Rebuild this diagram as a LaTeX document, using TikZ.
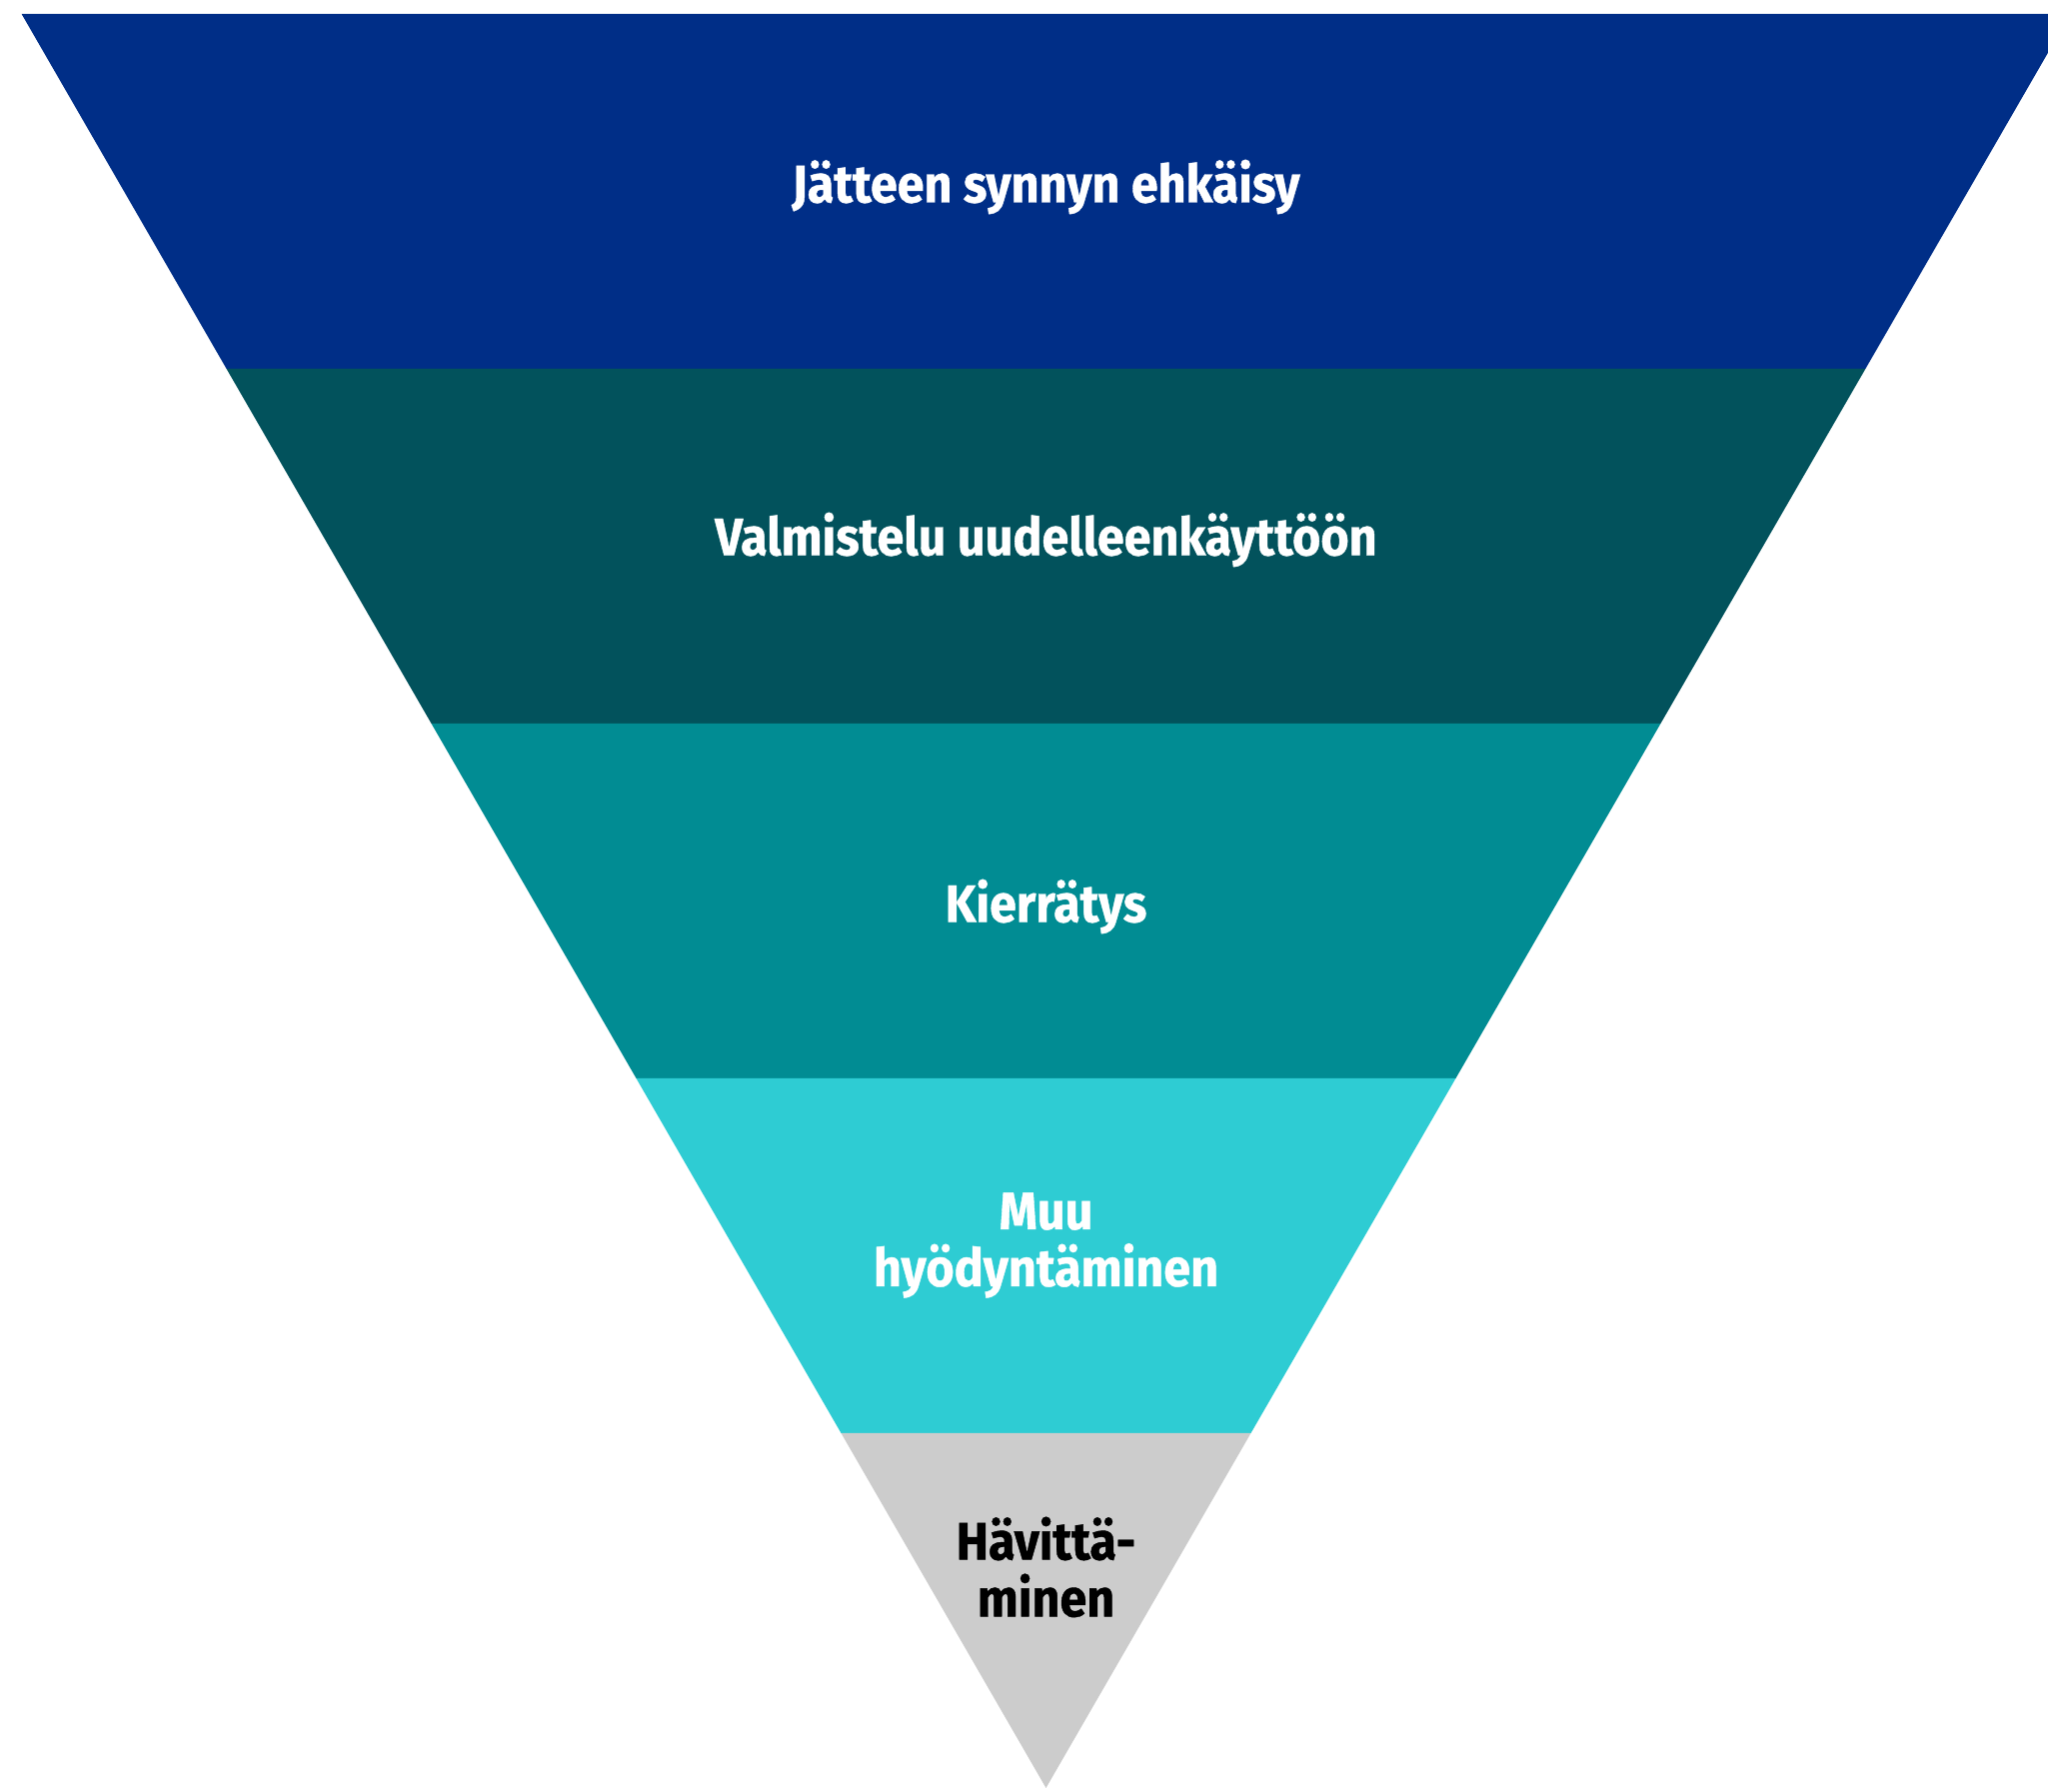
\documentclass[tikz,border=0pt]{standalone}
\usepackage{fontspec}
\newfontfamily\levelfont{Fira Sans}[FakeStretch=0.92,FakeBold=0.8]
\usepackage{xcolor}
\usetikzlibrary{calc}

\definecolor{prevblue}{HTML}{002E87}
\definecolor{reusegreen}{HTML}{02525C}
\definecolor{recycleteal}{HTML}{018C93}
\definecolor{recovercyan}{HTML}{2ECCD3}
\definecolor{disposegray}{HTML}{CCCCCC}

\begin{document}
\begin{tikzpicture}[
  level/.style={align=center, text=white, font=\levelfont\bfseries\fontsize{15}{16.2}\selectfont},
  lastlevel/.style={level, text=black}
]
\useasboundingbox (0,0) rectangle (20.49,17.93);
\clip (0,0) rectangle (20.49,17.93);

\coordinate (apex) at (10.465,0.04);
\coordinate (tl) at (0.216,17.79);
\coordinate (tr) at (20.714,17.79);

% bands, top to bottom
\fill[prevblue] (tl) -- (tr) -- ($(apex)!0.8!(tr)$) -- ($(apex)!0.8!(tl)$) -- cycle;
\fill[reusegreen] ($(apex)!0.8!(tl)$) -- ($(apex)!0.8!(tr)$) -- ($(apex)!0.6!(tr)$) -- ($(apex)!0.6!(tl)$) -- cycle;
\fill[recycleteal] ($(apex)!0.6!(tl)$) -- ($(apex)!0.6!(tr)$) -- ($(apex)!0.4!(tr)$) -- ($(apex)!0.4!(tl)$) -- cycle;
\fill[recovercyan] ($(apex)!0.4!(tl)$) -- ($(apex)!0.4!(tr)$) -- ($(apex)!0.2!(tr)$) -- ($(apex)!0.2!(tl)$) -- cycle;
\fill[disposegray] ($(apex)!0.2!(tl)$) -- ($(apex)!0.2!(tr)$) -- (apex) -- cycle;

\node[level] (prevention) at (10.465,16.06) {Jätteen synnyn ehkäisy};
\node[level] (reuse) at (10.465,12.53) {Valmistelu uudelleenkäyttöön};
\node[level] (recycling) at (10.465,8.86) {Kierrätys};
\node[level] (recovery) at (10.465,5.47) {Muu\\hyödyntäminen};
\node[lastlevel] (disposal) at (10.465,2.25) {Hävittä-\\minen};
\end{tikzpicture}
\end{document}
